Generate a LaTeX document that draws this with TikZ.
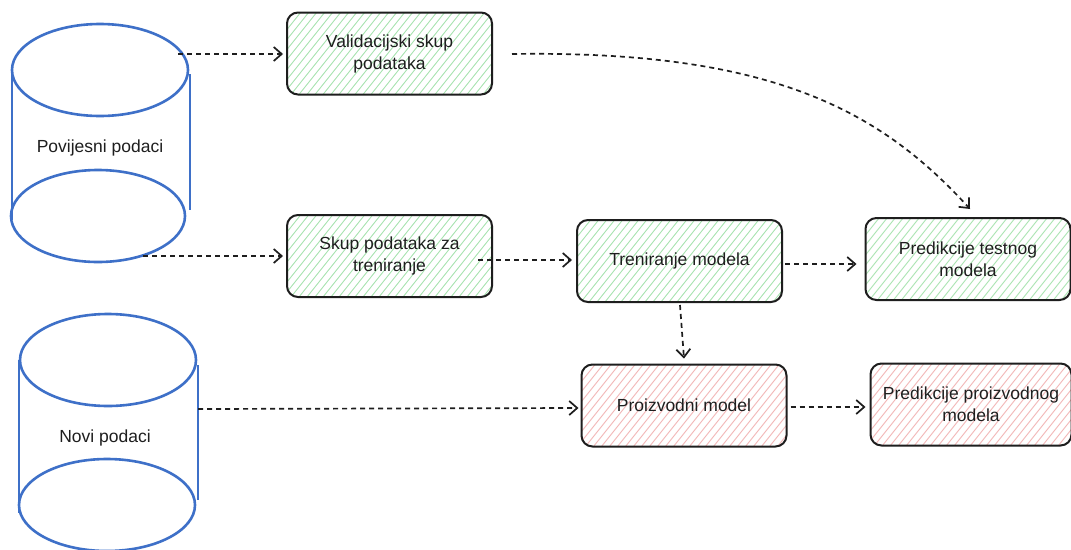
\documentclass[tikz,border=0pt]{standalone}
\usepackage{fontspec}
\setmainfont{Liberation Sans}
\usetikzlibrary{arrows.meta}
\definecolor{cylblue}{RGB}{62,112,200}
\definecolor{hgreen}{RGB}{170,228,178}
\definecolor{hred}{RGB}{242,182,182}
\definecolor{ink}{RGB}{30,30,30}
\tikzset{
  procbox/.style={draw=ink, line width=2pt, rounded corners=11pt, minimum width=#1, minimum height=82pt, align=center, font=\fontsize{17.5}{22}\selectfont, text=ink, inner sep=2pt},
  procbox/.default=205pt,
  hatchg/.style={path picture={\foreach \i in {-140,-132,...,240} \draw[hgreen, line width=0.9pt] ([xshift=\i pt]path picture bounding box.south west) -- ++(100pt,125pt);}},
  hatchr/.style={path picture={\foreach \i in {-140,-132,...,240} \draw[hred, line width=0.9pt] ([xshift=\i pt]path picture bounding box.south west) -- ++(100pt,125pt);}},
  flow/.style={draw=ink, line width=1.7pt, dash pattern=on 5pt off 4pt, -{Straight Barb[length=8pt,width=14pt,line width=1.7pt]}},
  cyl/.style={draw=cylblue, line width=2.6pt},
  lbl/.style={font=\fontsize{17.5}{22}\selectfont, text=ink}
}
\begin{document}
\begin{tikzpicture}[x=1pt,y=-1pt]
\useasboundingbox (0,0) rectangle (1071,549);
\clip (0,0) rectangle (1071,549);
\fill[white] (0,0) rectangle (1071,549);

% cylinders
\draw[cyl] (100,70) ellipse [x radius=88, y radius=46];
\draw[cyl] (98,216) ellipse [x radius=87, y radius=46];
\draw[cyl] (12,68) -- (12,220);
\draw[cyl] (190,74) -- (190,210);
\node[lbl] (cylA) at (100,148) {Povijesni podaci};

\draw[cyl] (108,360) ellipse [x radius=88, y radius=46];
\draw[cyl] (107,505) ellipse [x radius=88, y radius=46];
\draw[cyl] (19,360) -- (19,513);
\draw[cyl] (198,365) -- (198,500);
\node[lbl] (cylB) at (105,438) {Novi podaci};

% boxes
\node[procbox, hatchg] (val) at (389.5,53.5) {Validacijski skup\\podataka};
\node[procbox, hatchg] (train) at (389.5,256) {Skup podataka za\\treniranje};
\node[procbox, hatchg] (tren) at (679.5,261) {Treniranje modela};
\node[procbox, hatchg] (predt) at (968,259) {Predikcije testnog\\modela};
\node[procbox, hatchr] (prod) at (684,405.5) {Proizvodni model};
\node[procbox=201pt, hatchr] (predp) at (971,404.5) {Predikcije proizvodnog\\modela};

% free ends
\coordinate (a1) at (178,54);
\coordinate (a2) at (143,256);
\coordinate (a3) at (478,260);
\coordinate (a4) at (512,54);
\coordinate (a5) at (198,409);
\coordinate (a6) at (680,305);

% connectors
\draw[flow] (a1) -- ([xshift=-3pt]val.west |- a1);
\draw[flow] (a2) -- ([xshift=-3pt]train.west);
\draw[flow] (a3) -- ([xshift=-4pt]tren.west |- a3);
\draw[flow] ([xshift=2pt]tren.east |- 0,264) -- ([xshift=-8pt]predt.west |- 0,264);
\draw[flow] (a4) .. controls (770,50) and (880,110) .. ([xshift=2pt,yshift=8pt]predt.north);
\draw[flow] (a6) -- ([yshift=5pt]prod.north);
\draw[flow] (a5) -- ([xshift=-2pt]prod.west |- 0,408);
\draw[flow] ([xshift=3pt]prod.east |- 0,407) -- ([xshift=-4pt]predp.west |- 0,407);
\end{tikzpicture}
\end{document}
